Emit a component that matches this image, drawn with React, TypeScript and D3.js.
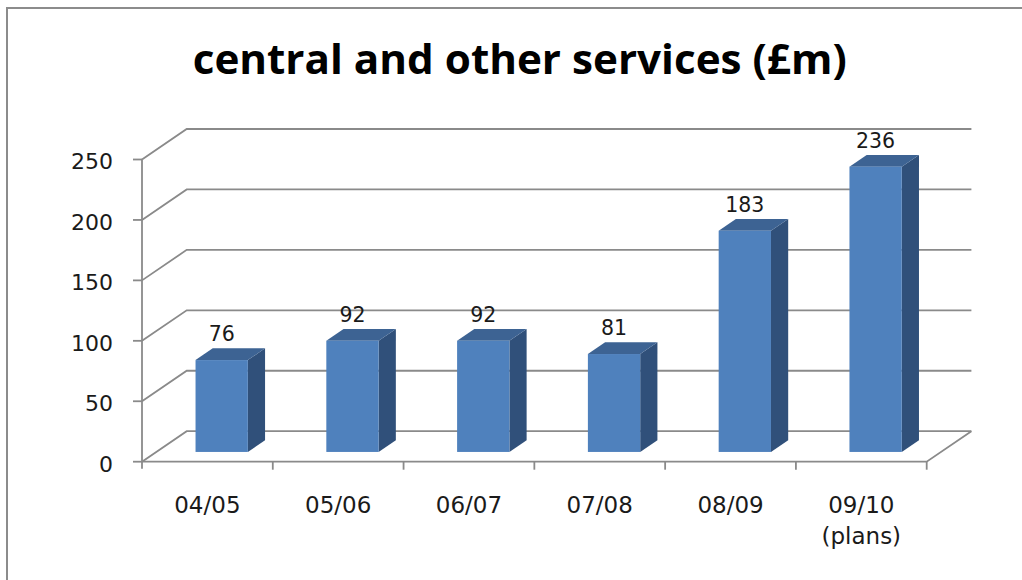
import React from "react";
import * as d3 from "d3";

const categories = ["04/05", "05/06", "06/07", "07/08", "08/09", "09/10"];
const subLabels = ["", "", "", "", "", "(plans)"];
const values = [76, 92, 92, 81, 183, 236];
const yTicks = [0, 50, 100, 150, 200, 250];
const title = "central and other services (£m)";

const W = 1022;
const H = 580;
// front plane geometry
const X0 = 142;
const X1 = 926.7;
const Y0 = 461.7;
const Y1 = 159.5;
// depth vector of the whole floor
const DX = 44.7;
const DY = -30.5;
const BAR_FRONT = 0.32;
const BAR_BACK = 0.705;

const FRONT = "#4F81BD";
const SIDE = "#30507A";
const TOP = "#3D6393";
const GRID = "#8a8a8a";
const TEXT = "#1a1a1a";

export default function App() {
  const x = d3
    .scaleBand<string>()
    .domain(categories)
    .range([X0, X1])
    .paddingInner(0.6)
    .paddingOuter(0.3);
  const y = d3.scaleLinear().domain([0, 250]).range([Y0, Y1]);
  const step = x.step();

  const fx = BAR_FRONT * DX;
  const fy = BAR_FRONT * DY;
  const bx = (BAR_BACK - BAR_FRONT) * DX;
  const by = (BAR_BACK - BAR_FRONT) * DY;
  const bw = x.bandwidth();

  return (
    <svg
      width={W}
      height={H}
      style={{ position: "absolute", left: 0, top: 0, display: "block", background: "#fff" }}
    >
      <rect x={7} y={8} width={1040} height={620} fill="#fff" stroke="#8c8c8c" strokeWidth={2} />
      <text
        x={519.7}
        y={74}
        textAnchor="middle"
        fontFamily="'Open Sans', sans-serif"
        fontWeight="bold"
        fontSize={42}
        textLength={654}
        lengthAdjust="spacingAndGlyphs"
        fill="#000"
      >
        {title}
      </text>

      {/* gridlines: left wall diagonal + back wall horizontal */}
      {yTicks.map((t) => (
        <path
          key={"g" + t}
          d={`M${X0},${y(t)} L${X0 + DX},${y(t) + DY} L${X1 + DX},${y(t) + DY}`}
          fill="none"
          stroke={GRID}
          strokeWidth={1.8}
        />
      ))}
      {/* floor front edge and right diagonal */}
      <path
        d={`M${X0},${Y0} L${X1},${Y0} L${X1 + DX},${Y0 + DY}`}
        fill="none"
        stroke={GRID}
        strokeWidth={1.8}
      />
      {/* vertical axis */}
      <line x1={X0} y1={Y1} x2={X0} y2={Y0 + 7} stroke={GRID} strokeWidth={1.8} />
      {yTicks.map((t) => (
        <line key={"yt" + t} x1={X0 - 9} y1={y(t)} x2={X0} y2={y(t)} stroke={GRID} strokeWidth={1.8} />
      ))}
      {categories.map((c, i) => (
        <line
          key={"xt" + c}
          x1={X0 + (i + 1) * step}
          y1={Y0}
          x2={X0 + (i + 1) * step}
          y2={Y0 + 8}
          stroke={GRID}
          strokeWidth={1.8}
        />
      ))}
      {yTicks.map((t) => (
        <text
          key={"yl" + t}
          x={113}
          y={y(t) + 9.8}
          textAnchor="end"
          fontFamily="'DejaVu Sans', sans-serif"
          fontSize={22}
          fill={TEXT}
        >
          {t}
        </text>
      ))}

      {/* bars */}
      {categories.map((c, i) => {
        const left = (x(c) as number) + fx;
        const right = left + bw;
        const bottom = Y0 + fy;
        const top = y(values[i]) + fy;
        return (
          <g key={"b" + c}>
            <path
              d={`M${right},${bottom} L${right + bx},${bottom + by} L${right + bx},${top + by} L${right},${top} Z`}
              fill={SIDE}
            />
            <path
              d={`M${left},${top} L${left + bx},${top + by} L${right + bx},${top + by} L${right},${top} Z`}
              fill={TOP}
            />
            <rect x={left} y={top} width={bw} height={bottom - top} fill={FRONT} />
            <text
              x={left + bw / 2}
              y={top + by - 7.3}
              textAnchor="middle"
              fontFamily="'DejaVu Sans', sans-serif"
              fontSize={20.5}
              fill={TEXT}
            >
              {values[i]}
            </text>
          </g>
        );
      })}

      {categories.map((c, i) => {
        const cx = (x(c) as number) + bw / 2;
        return (
          <g key={"xl" + c}>
            <text
              x={cx}
              y={513.3}
              textAnchor="middle"
              fontFamily="'DejaVu Sans', sans-serif"
              fontSize={23}
              fill={TEXT}
            >
              {c}
            </text>
            {subLabels[i] && (
              <text
                x={cx}
                y={544}
                textAnchor="middle"
                fontFamily="'DejaVu Sans', sans-serif"
                fontSize={23}
                fill={TEXT}
              >
                {subLabels[i]}
              </text>
            )}
          </g>
        );
      })}
    </svg>
  );
}
